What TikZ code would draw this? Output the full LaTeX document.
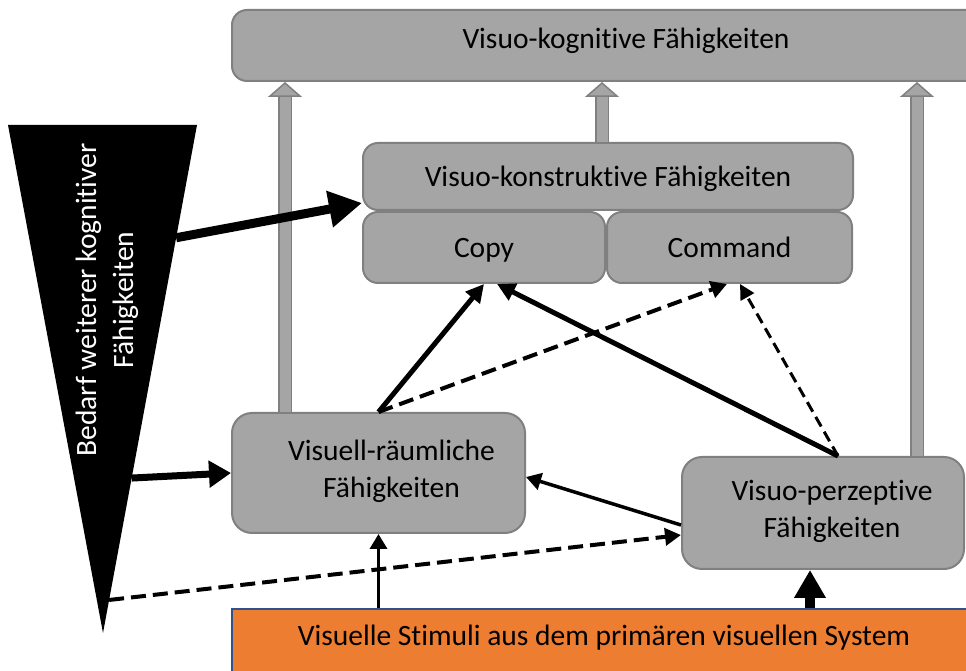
\documentclass[tikz,border=0pt]{standalone}
\usepackage{fontspec}
\setmainfont{Carlito}[Ligatures=NoCommon]
\usetikzlibrary{arrows.meta,calc}
\definecolor{boxfill}{HTML}{A5A5A5}
\definecolor{boxline}{HTML}{808080}
\definecolor{stimfill}{HTML}{ED7D31}
\definecolor{stimline}{HTML}{2F528F}
\tikzset{
        skill/.style={draw=boxline, line width=2pt, fill=boxfill, rounded corners=15pt, inner sep=0pt, align=center,
          text height=24pt, text depth=3pt},
        stimulus/.style={draw=stimline, line width=1.5pt, fill=stimfill, inner sep=0pt},
        graybar/.style={draw=boxline, line width=1.5pt, double=boxfill, double distance=11pt,
          -{Triangle[length=15pt, width=34pt, fill=boxfill, line width=1.5pt]}},
        strongarrow/.style={line width=9pt, -{Triangle[length=33pt, width=35pt]}},
        midarrow/.style={line width=7pt, -{Triangle[length=22pt, width=26pt]}},
        bigstim/.style={line width=10pt, -{Triangle[length=28pt, width=30pt]}},
        solidlink/.style={line width=5pt, -{Triangle[length=18pt, width=18pt]}},
        thinlink/.style={line width=3.5pt, -{Triangle[length=15pt, width=17pt]}},
        dashlink/.style={line width=4pt, dash pattern=on 15pt off 7pt, -{Triangle[length=16pt, width=17pt]}},
        finedash/.style={line width=3pt, dash pattern=on 11pt off 6pt, -{Triangle[length=15pt, width=15pt]}}
          }

\begin{document}
\begin{tikzpicture}[x=1pt, y=1pt, font=\fontsize{29.5}{37}\selectfont]
        \useasboundingbox (0,0) rectangle (966,671);
        % boxes
        \node[skill, minimum width=788pt, minimum height=71pt, text height=20pt, text depth=14pt] (top) at (626,625.5) {Visuo-kognitive Fähigkeiten};
        \node[skill, minimum width=490pt, minimum height=67pt] (vk) at (608,494.5) {Visuo-konstruktive Fähigkeiten};
        \node[skill, minimum width=242pt, minimum height=71pt] (copy) at (484,423.5) {Copy};
        \node[skill, minimum width=245pt, minimum height=71pt] (command) at (729.5,423.5) {Command};
        \node[skill, minimum width=293pt, minimum height=120pt, rounded corners=20pt] (vr) at (378.5,198) {};
        \node[align=center] (vrtext) at ([xshift=13pt, yshift=2pt]vr.center) {Visuell-räumliche\\Fähigkeiten};
        \node[skill, minimum width=282pt, minimum height=112pt, rounded corners=20pt] (vp) at (823,158) {};
        \node[align=center] (vptext) at ([xshift=9pt, yshift=2pt]vp.center) {Visuo-perzeptive\\Fähigkeiten};
        \node[stimulus, minimum width=744pt, minimum height=72pt] (stim) at (604,26) {};
        \node (stimtext) at (604,33) {Visuelle Stimuli aus dem primären visuellen System};
        % demand wedge
        \coordinate (tl) at (8,546);
        \coordinate (tr) at (197,546);
        \coordinate (apex) at (103,38);
        \fill[black] (tl) -- (tr) -- (apex) -- cycle;
        \node[text=white, rotate=90, align=center] (needtext) at (107,371) {Bedarf weiterer kognitiver\\Fähigkeiten};
        \coordinate (needA) at ($(tr)!0.222!(apex)$);
        \coordinate (needB) at ($(tr)!0.695!(apex)$);
        \coordinate (needC) at ($(tr)!0.935!(apex)$);
        \coordinate (vpin) at ([xshift=-13pt]vp.south);
        % gray arrows to the top
        \draw[graybar] ([xshift=-93.5pt]vr.north) -- ([xshift=-93.5pt]vr.north |- top.south);
        \draw[graybar] ([xshift=-6pt]vk.north) -- ([xshift=-6pt]vk.north |- top.south);
        \draw[graybar] ([xshift=94pt]vp.north) -- ([xshift=94pt]vp.north |- top.south);
        % black arrows
        \draw[strongarrow] (needA) -- ([yshift=-26.5pt]vk.west);
        \draw[midarrow] (needB) -- (vr.west);
        \draw[dashlink] (needC) -- ([yshift=-22pt]vp.west);
        \draw[thinlink] (stim.north -| vr.south) -- (vr.south);
        \draw[bigstim] (stim.north -| vpin) -- (vpin);
        \draw[thinlink] ([yshift=-12pt]vp.west) -- ([yshift=-4pt]vr.east);
        \draw[solidlink] (vr.north) -- (copy.south);
        \draw[dashlink] (vr.north) -- ([xshift=-2.5pt]command.south);
        \draw[solidlink] ([xshift=15pt]vp.north) -- ([xshift=13pt]copy.south);
        \draw[finedash] ([xshift=15pt]vp.north) -- ([xshift=10.5pt]command.south);
\end{tikzpicture}
\end{document}
